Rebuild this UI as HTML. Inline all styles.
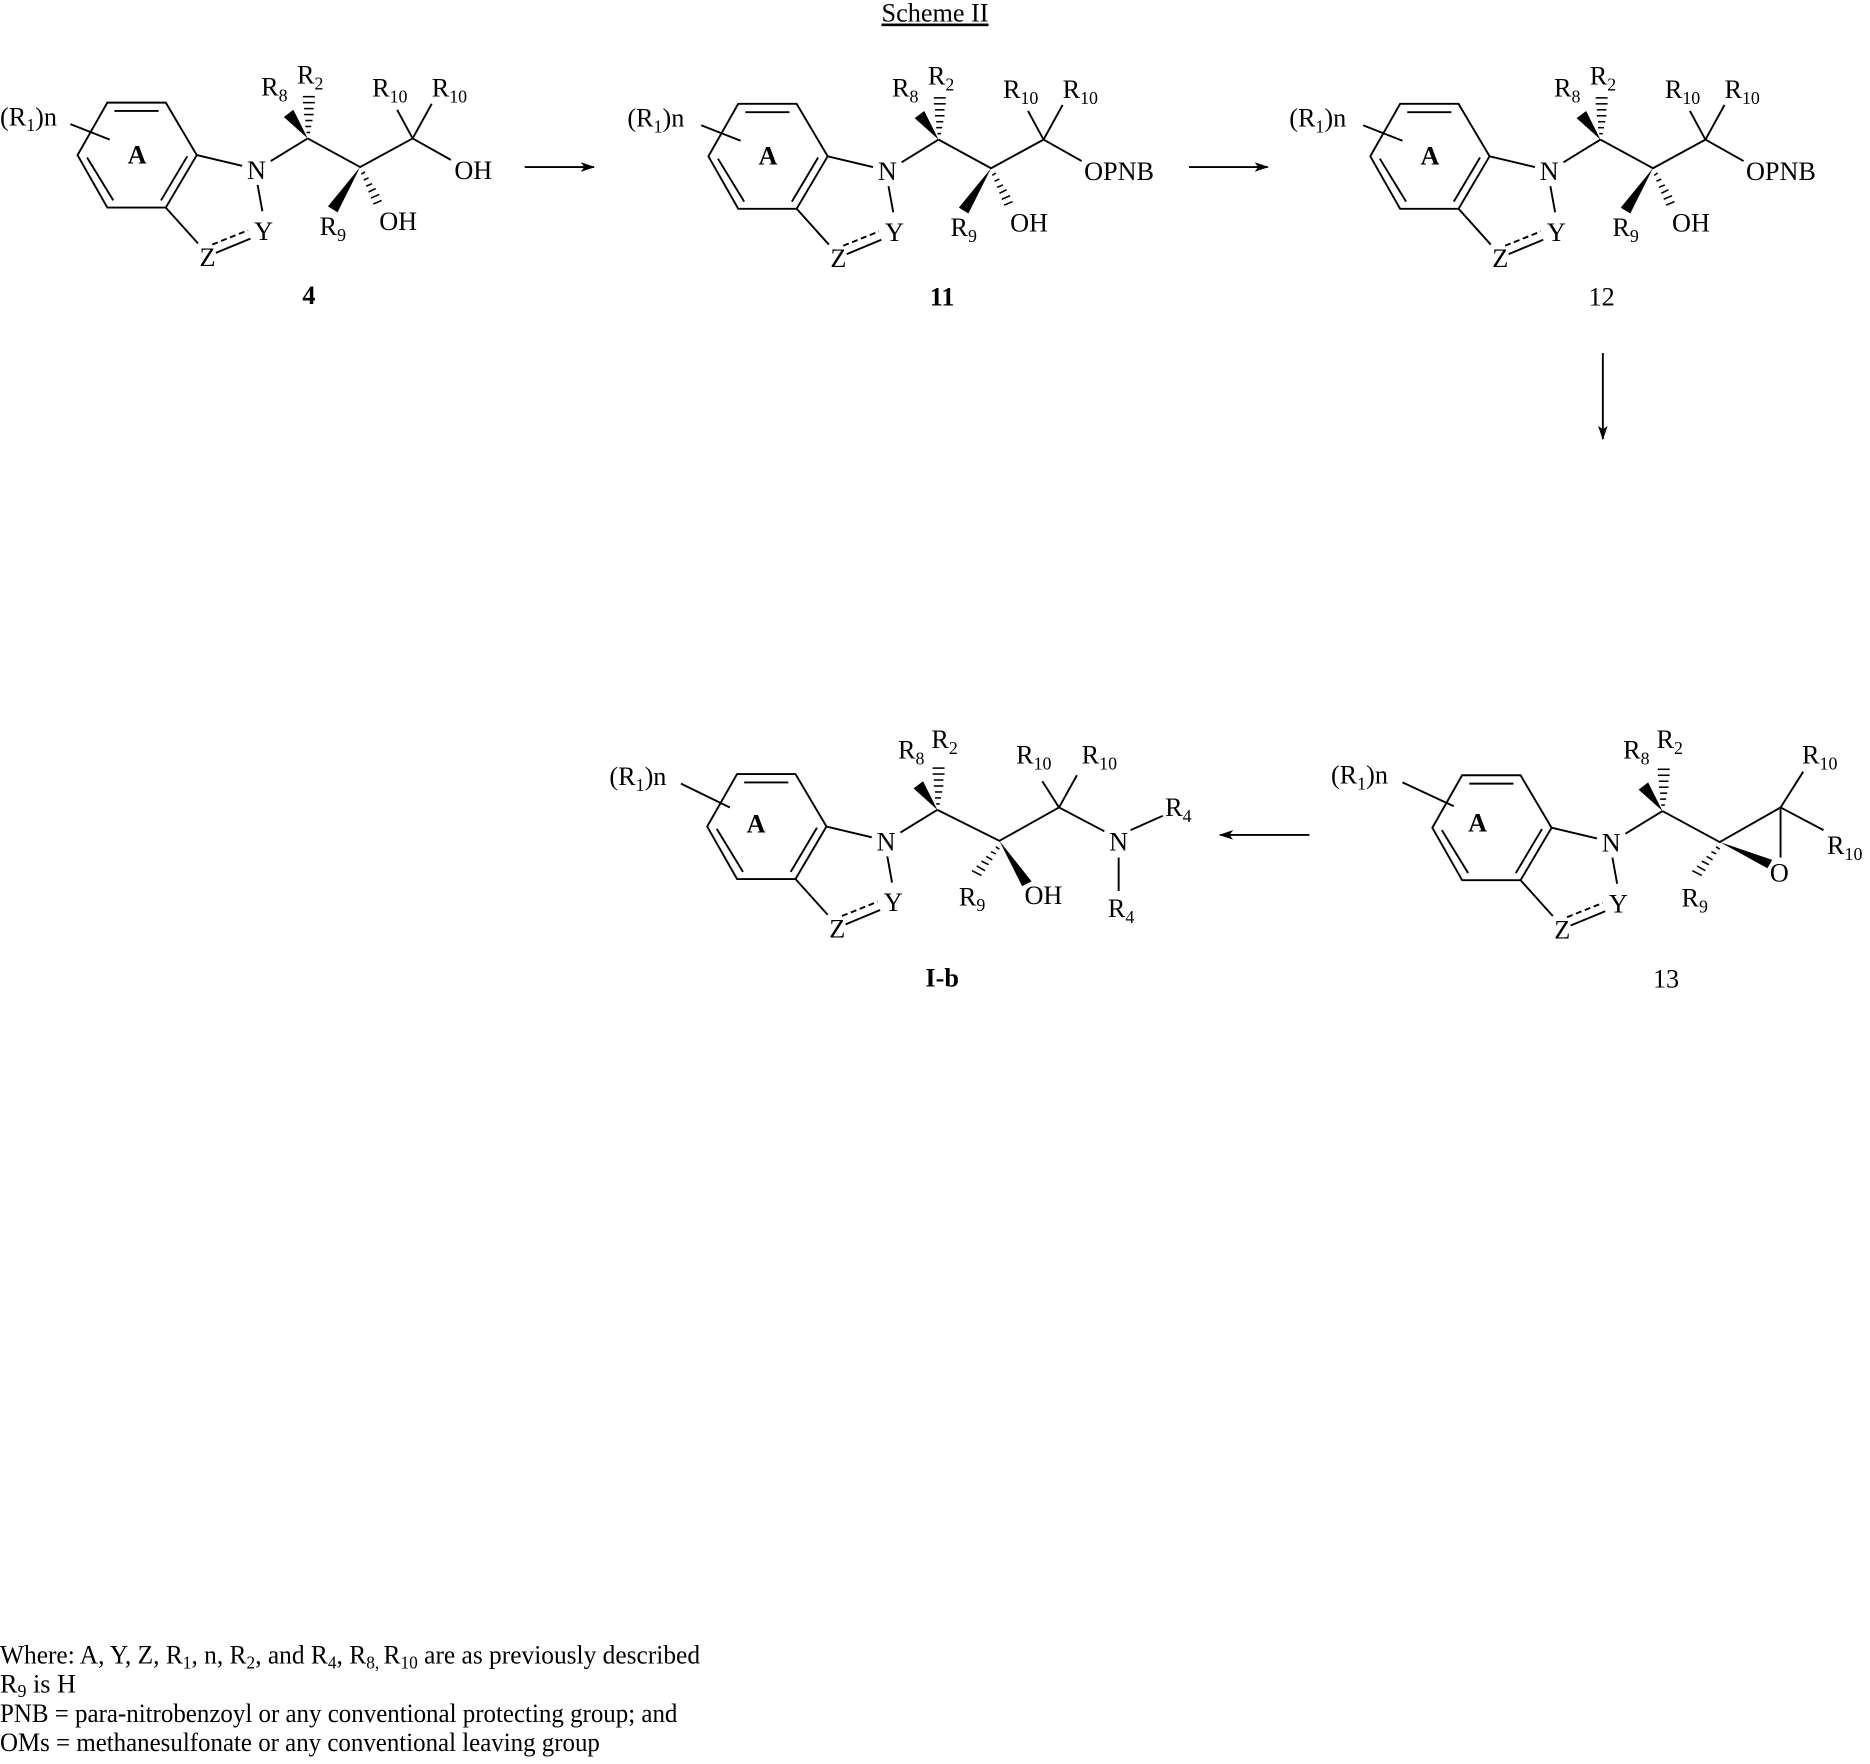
<!DOCTYPE html>
<html><head><meta charset="utf-8"><style>
html,body{margin:0;padding:0;background:#fff}
svg{display:block}
text{font-family:"Liberation Serif",serif;fill:#000;font-size:22px}
.s{font-size:15px}
line,polyline,polygon.o{stroke:#000;stroke-width:1.6;fill:none}
.h line{stroke-width:1.3}
.b{font-weight:bold;font-size:22px}
</style></head><body>
<svg width="1870" height="1764" viewBox="0 0 1568 1479" xmlns="http://www.w3.org/2000/svg">
<defs>
<marker id="ah" markerWidth="12" markerHeight="8" refX="11" refY="4" orient="auto" markerUnits="userSpaceOnUse"><polygon points="0,0 12,4 0,8 3,4" fill="#000"/></marker>
</defs>
<text x="784" y="18" text-anchor="middle" font-size="20" text-decoration="underline">Scheme II</text>

<!-- Compound 4 -->
<g transform="translate(0,0)">
<polygon class="o" points="90,86 139,86 165,130 139,174 90,174 65,130"/>
<line x1="96" y1="93" x2="133" y2="93"/><line x1="73" y1="132" x2="95" y2="168"/><line x1="157" y1="131" x2="135" y2="168"/>
<line x1="165" y1="130" x2="203" y2="139"/><text x="215" y="150" text-anchor="middle">N</text>
<line x1="216" y1="155" x2="220" y2="177"/><text x="221" y="201" text-anchor="middle">Y</text>
<line x1="139" y1="174" x2="166" y2="204"/><text x="174" y="223" text-anchor="middle">Z</text>
<line x1="181" y1="212" x2="210" y2="200"/><line x1="178" y1="205" x2="208" y2="193" stroke-dasharray="5,3"/>
<text x="0" y="105">(R<tspan class="s" dy="5">1</tspan><tspan dy="-5">)n</tspan></text>
<line x1="59" y1="104" x2="92" y2="117"/>
<text x="115" y="137" text-anchor="middle" font-size="18" font-weight="bold">A</text>
<line x1="227" y1="135" x2="258" y2="116"/>
<polygon points="258,116 238,98 246,92" fill="#000"/>
<g class="h"><line x1="257" y1="111" x2="260" y2="111"/><line x1="256" y1="106" x2="261" y2="106"/><line x1="256" y1="101" x2="262" y2="101"/><line x1="255" y1="96" x2="263" y2="96"/><line x1="255" y1="91" x2="263" y2="91"/><line x1="254" y1="86" x2="264" y2="86"/><line x1="254" y1="81" x2="264" y2="81"/></g>
<text x="219" y="80">R<tspan class="s" dy="5">8</tspan></text><text x="249" y="70">R<tspan class="s" dy="5">2</tspan></text>
<polyline points="258,116 302,140 346,116"/>
<line x1="346" y1="116" x2="333" y2="92"/><line x1="346" y1="116" x2="362" y2="87"/><line x1="346" y1="116" x2="378" y2="134"/>
<text x="312" y="81">R<tspan class="s" dy="5">10</tspan></text><text x="362" y="81">R<tspan class="s" dy="5">10</tspan></text>
<polygon points="302,140 275,173 283,178" fill="#000"/>
<g class="h"><line x1="303" y1="146" x2="306" y2="144"/><line x1="305" y1="151" x2="309" y2="149"/><line x1="307" y1="156" x2="312" y2="154"/><line x1="309" y1="161" x2="315" y2="158"/><line x1="311" y1="166" x2="318" y2="163"/><line x1="313" y1="171" x2="320" y2="168"/></g>
<text x="268" y="197">R<tspan class="s" dy="5">9</tspan></text><text x="318" y="193">OH</text>
<text x="381" y="150">OH</text>
<text x="259" y="255" text-anchor="middle" class="b">4</text>
</g>

<line x1="440" y1="140" x2="498" y2="140" marker-end="url(#ah)"/>

<!-- Compound 11 -->
<g transform="translate(529,1)">
<polygon class="o" points="90,86 139,86 165,130 139,174 90,174 65,130"/>
<line x1="96" y1="93" x2="133" y2="93"/><line x1="73" y1="132" x2="95" y2="168"/><line x1="157" y1="131" x2="135" y2="168"/>
<line x1="165" y1="130" x2="203" y2="139"/><text x="215" y="150" text-anchor="middle">N</text>
<line x1="216" y1="155" x2="220" y2="177"/><text x="221" y="201" text-anchor="middle">Y</text>
<line x1="139" y1="174" x2="166" y2="204"/><text x="174" y="223" text-anchor="middle">Z</text>
<line x1="181" y1="212" x2="210" y2="200"/><line x1="178" y1="205" x2="208" y2="193" stroke-dasharray="5,3"/>
<text x="-3" y="105">(R<tspan class="s" dy="5">1</tspan><tspan dy="-5">)n</tspan></text>
<line x1="59" y1="104" x2="92" y2="117"/>
<text x="115" y="137" text-anchor="middle" font-size="18" font-weight="bold">A</text>
<line x1="227" y1="135" x2="258" y2="116"/>
<polygon points="258,116 238,98 246,92" fill="#000"/>
<g class="h"><line x1="257" y1="111" x2="260" y2="111"/><line x1="256" y1="106" x2="261" y2="106"/><line x1="256" y1="101" x2="262" y2="101"/><line x1="255" y1="96" x2="263" y2="96"/><line x1="255" y1="91" x2="263" y2="91"/><line x1="254" y1="86" x2="264" y2="86"/><line x1="254" y1="81" x2="264" y2="81"/></g>
<text x="219" y="80">R<tspan class="s" dy="5">8</tspan></text><text x="249" y="70">R<tspan class="s" dy="5">2</tspan></text>
<polyline points="258,116 302,140 346,116"/>
<line x1="346" y1="116" x2="333" y2="92"/><line x1="346" y1="116" x2="362" y2="87"/><line x1="346" y1="116" x2="378" y2="134"/>
<text x="312" y="81">R<tspan class="s" dy="5">10</tspan></text><text x="362" y="81">R<tspan class="s" dy="5">10</tspan></text>
<polygon points="302,140 275,173 283,178" fill="#000"/>
<g class="h"><line x1="303" y1="146" x2="306" y2="144"/><line x1="305" y1="151" x2="309" y2="149"/><line x1="307" y1="156" x2="312" y2="154"/><line x1="309" y1="161" x2="315" y2="158"/><line x1="311" y1="166" x2="318" y2="163"/><line x1="313" y1="171" x2="320" y2="168"/></g>
<text x="268" y="197">R<tspan class="s" dy="5">9</tspan></text><text x="318" y="193">OH</text>
<text x="380" y="150">OPNB</text>
<text x="261" y="255" text-anchor="middle" class="b">11</text>
</g>

<line x1="997" y1="140" x2="1063" y2="140" marker-end="url(#ah)"/>

<!-- Compound 12 -->
<g transform="translate(1084,1)">
<polygon class="o" points="90,86 139,86 165,130 139,174 90,174 65,130"/>
<line x1="96" y1="93" x2="133" y2="93"/><line x1="73" y1="132" x2="95" y2="168"/><line x1="157" y1="131" x2="135" y2="168"/>
<line x1="165" y1="130" x2="203" y2="139"/><text x="215" y="150" text-anchor="middle">N</text>
<line x1="216" y1="155" x2="220" y2="177"/><text x="221" y="201" text-anchor="middle">Y</text>
<line x1="139" y1="174" x2="166" y2="204"/><text x="174" y="223" text-anchor="middle">Z</text>
<line x1="181" y1="212" x2="210" y2="200"/><line x1="178" y1="205" x2="208" y2="193" stroke-dasharray="5,3"/>
<text x="-3" y="105">(R<tspan class="s" dy="5">1</tspan><tspan dy="-5">)n</tspan></text>
<line x1="59" y1="104" x2="92" y2="117"/>
<text x="115" y="137" text-anchor="middle" font-size="18" font-weight="bold">A</text>
<line x1="227" y1="135" x2="258" y2="116"/>
<polygon points="258,116 238,98 246,92" fill="#000"/>
<g class="h"><line x1="257" y1="111" x2="260" y2="111"/><line x1="256" y1="106" x2="261" y2="106"/><line x1="256" y1="101" x2="262" y2="101"/><line x1="255" y1="96" x2="263" y2="96"/><line x1="255" y1="91" x2="263" y2="91"/><line x1="254" y1="86" x2="264" y2="86"/><line x1="254" y1="81" x2="264" y2="81"/></g>
<text x="219" y="80">R<tspan class="s" dy="5">8</tspan></text><text x="249" y="70">R<tspan class="s" dy="5">2</tspan></text>
<polyline points="258,116 302,140 346,116"/>
<line x1="346" y1="116" x2="333" y2="92"/><line x1="346" y1="116" x2="362" y2="87"/><line x1="346" y1="116" x2="378" y2="134"/>
<text x="312" y="81">R<tspan class="s" dy="5">10</tspan></text><text x="362" y="81">R<tspan class="s" dy="5">10</tspan></text>
<polygon points="302,140 275,173 283,178" fill="#000"/>
<g class="h"><line x1="303" y1="146" x2="306" y2="144"/><line x1="305" y1="151" x2="309" y2="149"/><line x1="307" y1="156" x2="312" y2="154"/><line x1="309" y1="161" x2="315" y2="158"/><line x1="311" y1="166" x2="318" y2="163"/><line x1="313" y1="171" x2="320" y2="168"/></g>
<text x="268" y="197">R<tspan class="s" dy="5">9</tspan></text><text x="318" y="193">OH</text>
<text x="380" y="150">OPNB</text>
<text x="259" y="255" text-anchor="middle" font-size="22">12</text>
</g>

<line x1="1344" y1="296" x2="1344" y2="368" marker-end="url(#ah)"/>

<!-- Compound 13 -->
<g transform="translate(1136,564)">
<polygon class="o" points="90,86 139,86 165,130 139,174 90,174 65,130"/>
<line x1="96" y1="93" x2="133" y2="93"/><line x1="73" y1="132" x2="95" y2="168"/><line x1="157" y1="131" x2="135" y2="168"/>
<line x1="165" y1="130" x2="203" y2="139"/><text x="215" y="150" text-anchor="middle">N</text>
<line x1="216" y1="155" x2="220" y2="177"/><text x="221" y="201" text-anchor="middle">Y</text>
<line x1="139" y1="174" x2="166" y2="204"/><text x="174" y="223" text-anchor="middle">Z</text>
<line x1="181" y1="212" x2="210" y2="200"/><line x1="178" y1="205" x2="208" y2="193" stroke-dasharray="5,3"/>
<text x="-20" y="93">(R<tspan class="s" dy="5">1</tspan><tspan dy="-5">)n</tspan></text>
<line x1="40" y1="92" x2="83" y2="112"/>
<text x="103" y="133" text-anchor="middle" font-size="18" font-weight="bold">A</text>
<line x1="227" y1="135" x2="258" y2="116"/>
<polygon points="258,116 238,98 246,92" fill="#000"/>
<g class="h"><line x1="257" y1="111" x2="260" y2="111"/><line x1="256" y1="106" x2="261" y2="106"/><line x1="256" y1="101" x2="262" y2="101"/><line x1="255" y1="96" x2="263" y2="96"/><line x1="255" y1="91" x2="263" y2="91"/><line x1="254" y1="86" x2="264" y2="86"/><line x1="254" y1="81" x2="264" y2="81"/></g>
<text x="225" y="72">R<tspan class="s" dy="5">8</tspan></text><text x="253" y="63">R<tspan class="s" dy="5">2</tspan></text>
<polyline points="258,116 306,142 357,113"/>
<line x1="357" y1="113" x2="357" y2="155"/>
<polygon points="306,142 346,164 350,157" fill="#000"/>
<line x1="357" y1="113" x2="376" y2="83"/><line x1="357" y1="113" x2="393" y2="132"/>
<text x="375" y="76">R<tspan class="s" dy="5">10</tspan></text><text x="396" y="152">R<tspan class="s" dy="5">10</tspan></text>
<text x="356" y="175" text-anchor="middle">O</text>
<g class="h"><line x1="303" y1="146" x2="306" y2="148"/><line x1="299" y1="150" x2="303" y2="152"/><line x1="295" y1="154" x2="300" y2="157"/><line x1="291" y1="158" x2="297" y2="161"/><line x1="287" y1="162" x2="294" y2="166"/><line x1="283" y1="166" x2="291" y2="170"/></g>
<text x="274" y="196">R<tspan class="s" dy="5">9</tspan></text>
<text x="261" y="264" text-anchor="middle" font-size="22">13</text>
</g>

<line x1="1098" y1="700" x2="1023" y2="700" marker-end="url(#ah)"/>

<!-- Compound I-b -->
<g transform="translate(528,563)">
<polygon class="o" points="90,86 139,86 165,130 139,174 90,174 65,130"/>
<line x1="96" y1="93" x2="133" y2="93"/><line x1="73" y1="132" x2="95" y2="168"/><line x1="157" y1="131" x2="135" y2="168"/>
<line x1="165" y1="130" x2="203" y2="139"/><text x="215" y="150" text-anchor="middle">N</text>
<line x1="216" y1="155" x2="220" y2="177"/><text x="221" y="201" text-anchor="middle">Y</text>
<line x1="139" y1="174" x2="166" y2="204"/><text x="174" y="223" text-anchor="middle">Z</text>
<line x1="181" y1="212" x2="210" y2="200"/><line x1="178" y1="205" x2="208" y2="193" stroke-dasharray="5,3"/>
<text x="-17" y="95">(R<tspan class="s" dy="5">1</tspan><tspan dy="-5">)n</tspan></text>
<line x1="43" y1="94" x2="84" y2="114"/>
<text x="106" y="135" text-anchor="middle" font-size="18" font-weight="bold">A</text>
<line x1="227" y1="135" x2="258" y2="116"/>
<polygon points="258,116 238,98 246,92" fill="#000"/>
<g class="h"><line x1="257" y1="111" x2="260" y2="111"/><line x1="256" y1="106" x2="261" y2="106"/><line x1="256" y1="101" x2="262" y2="101"/><line x1="255" y1="96" x2="263" y2="96"/><line x1="255" y1="91" x2="263" y2="91"/><line x1="254" y1="86" x2="264" y2="86"/><line x1="254" y1="81" x2="264" y2="81"/></g>
<text x="225" y="73">R<tspan class="s" dy="5">8</tspan></text><text x="253" y="64">R<tspan class="s" dy="5">2</tspan></text>
<polyline points="258,116 310,142 360,114 398,134"/>
<line x1="360" y1="114" x2="346" y2="92"/><line x1="360" y1="114" x2="375" y2="87"/>
<text x="324" y="77">R<tspan class="s" dy="5">10</tspan></text><text x="379" y="77">R<tspan class="s" dy="5">10</tspan></text>
<polygon points="310,142 329,180 337,176" fill="#000"/>
<g class="h"><line x1="307" y1="147" x2="310" y2="149"/><line x1="303" y1="151" x2="307" y2="153"/><line x1="299" y1="155" x2="304" y2="158"/><line x1="295" y1="159" x2="301" y2="162"/><line x1="291" y1="163" x2="298" y2="167"/><line x1="287" y1="167" x2="295" y2="171"/></g>
<text x="276" y="196">R<tspan class="s" dy="5">9</tspan></text><text x="331" y="195">OH</text>
<text x="410" y="150" text-anchor="middle">N</text>
<line x1="420" y1="133" x2="447" y2="121"/><line x1="410" y1="156" x2="410" y2="184"/>
<text x="449" y="121">R<tspan class="s" dy="5">4</tspan></text><text x="401" y="206">R<tspan class="s" dy="5">4</tspan></text>
<text x="262" y="264" text-anchor="middle" class="b">I-b</text>
</g>

<!-- Footer -->
<text x="0" y="1395" font-size="20" textLength="587" lengthAdjust="spacingAndGlyphs">Where: A, Y, Z, R<tspan class="s" dy="4">1</tspan><tspan dy="-4">, n, R</tspan><tspan class="s" dy="4">2</tspan><tspan dy="-4">, and R</tspan><tspan class="s" dy="4">4</tspan><tspan dy="-4">, R</tspan><tspan class="s" dy="4">8, </tspan><tspan dy="-4">R</tspan><tspan class="s" dy="4">10</tspan><tspan dy="-4"> are as previously described</tspan></text>
<text x="0" y="1419" font-size="20">R<tspan class="s" dy="4">9</tspan><tspan dy="-4"> is H</tspan></text>
<text x="0" y="1444" font-size="20" textLength="568" lengthAdjust="spacingAndGlyphs">PNB = para-nitrobenzoyl or any conventional protecting group; and</text>
<text x="0" y="1468" font-size="20" textLength="503" lengthAdjust="spacingAndGlyphs">OMs = methanesulfonate or any conventional leaving group</text>
</svg>
</body></html>
